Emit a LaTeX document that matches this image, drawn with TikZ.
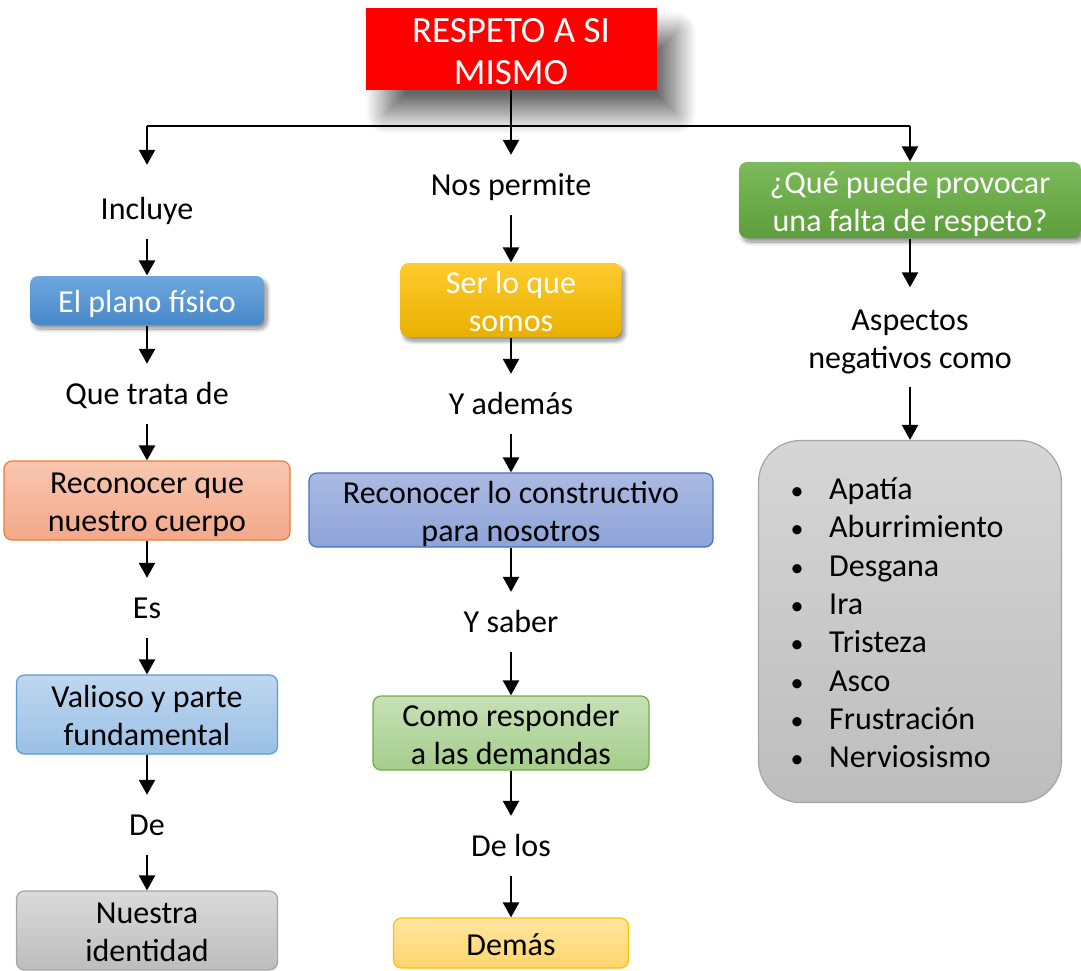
\documentclass[tikz,border=0pt]{standalone}
\usepackage{fontspec}
\setmainfont{Carlito}
\usetikzlibrary{arrows.meta,shadows.blur}
\definecolor{planoT}{HTML}{6DA7DD}
\definecolor{planoB}{HTML}{4888C9}
\definecolor{serT}{HTML}{FFCB2E}
\definecolor{serB}{HTML}{E9B000}
\definecolor{qT}{HTML}{7CBA5B}
\definecolor{qB}{HTML}{5E9D3B}
\definecolor{rqT}{HTML}{F8C7B0}
\definecolor{rqB}{HTML}{F4A889}
\definecolor{rqD}{HTML}{ED7D31}
\definecolor{rcT}{HTML}{ABBAE2}
\definecolor{rcB}{HTML}{8DA4D9}
\definecolor{rcD}{HTML}{4472C4}
\definecolor{vaT}{HTML}{BFD7EF}
\definecolor{vaB}{HTML}{9AC0E6}
\definecolor{vaD}{HTML}{5B9BD5}
\definecolor{coT}{HTML}{C6E1B6}
\definecolor{coB}{HTML}{A5CD8B}
\definecolor{coD}{HTML}{70AD47}
\definecolor{nuT}{HTML}{DADADA}
\definecolor{nuB}{HTML}{BDBDBD}
\definecolor{nuD}{HTML}{A5A5A5}
\definecolor{deT}{HTML}{FFE6A2}
\definecolor{deB}{HTML}{FFD56C}
\definecolor{deD}{HTML}{FFC000}
\definecolor{liT}{HTML}{D6D6D6}
\definecolor{liB}{HTML}{BDBDBD}
\begin{document}
\begin{tikzpicture}[x=1pt,y=-1pt,
  every node/.style={font=\fontsize{32}{38}\selectfont, align=center},
  lbl/.style={inner sep=0pt, text height=26pt, text depth=5pt, minimum height=60pt},
  box/.style={rounded corners=8pt, inner sep=0pt, line width=1.2pt},
  two/.style={text height=67pt, text depth=5pt},
  one/.style={text height=27pt, text depth=3pt},
  arr/.style={line width=2.3pt, -{Triangle[width=16pt,length=15pt]}},
  conn/.style={line width=2.3pt},
  sshadow/.style={blur shadow={shadow xshift=3pt, shadow yshift=-4pt, shadow blur radius=4pt, shadow opacity=45, shadow blur steps=10}},
  item/.style={inner sep=0pt, text height=26pt, text depth=5pt, anchor=west},
]
\useasboundingbox (0,0) rectangle (1081,970);

% title
\node[fill=red, minimum width=291pt, minimum height=82pt, inner sep=0pt, text=white,
  font=\fontsize{37}{42}\selectfont, text height=70pt, text depth=0pt,
  blur shadow={shadow xshift=20pt, shadow yshift=-24pt, shadow blur radius=20pt, shadow opacity=60, shadow blur steps=30}]
  (title) at (511,49) {RESPETO A SI\\MISMO};

\coordinate (forkL) at (147,126);
\coordinate (forkR) at (910,126);

% left column
\node[lbl] (incluye) at (147,209) {Incluye};
\node[box, one, sshadow, top color=planoT, bottom color=planoB, text=white, minimum width=234pt, minimum height=49pt] (plano) at (147,300.5) {El plano físico};
\node[lbl] (quetrata) at (147,394) {Que trata de};
\node[box, two, draw=rqD, top color=rqT, bottom color=rqB, minimum width=286pt, minimum height=79pt] (recon1) at (147,500.5) {Reconocer que\\nuestro cuerpo};
\node[lbl] (es) at (147,608) {Es};
\node[box, two, draw=vaD, top color=vaT, bottom color=vaB, minimum width=261pt, minimum height=79pt] (valioso) at (147,714.5) {Valioso y parte\\fundamental};
\node[lbl] (de) at (147,825) {De};
\node[box, two, draw=nuD, top color=nuT, bottom color=nuB, minimum width=261pt, minimum height=79pt] (nuestra) at (147,930.5) {Nuestra\\identidad};

% middle column
\node[lbl] (nospermite) at (511,185) {Nos permite};
\node[box, two, sshadow, top color=serT, bottom color=serB, text=white, minimum width=221pt, minimum height=74pt] (ser) at (511,300) {Ser lo que\\somos};
\node[lbl] (ademas) at (511,404) {Y además};
\node[box, two, draw=rcD, top color=rcT, bottom color=rcB, minimum width=404pt, minimum height=74pt] (recon2) at (511,510) {Reconocer lo constructivo\\para nosotros};
\node[lbl] (saber) at (511,622) {Y saber};
\node[box, two, draw=coD, top color=coT, bottom color=coB, minimum width=276pt, minimum height=74pt] (como) at (511,733) {Como responder\\a las demandas};
\node[lbl] (delos) at (511,846) {De los};
\node[box, one, draw=deD, top color=deT, bottom color=deB, minimum width=235pt, minimum height=50pt] (demas) at (511,943) {Demás};

% right column
\node[box, two, sshadow, top color=qT, bottom color=qB, text=white, minimum width=342pt, minimum height=76pt] (q) at (910,200) {¿Qué puede provocar\\una falta de respeto?};
\node[two, inner sep=0pt, minimum height=99pt] (aspectos) at (910,337) {Aspectos\\negativos como};
\node[rounded corners=42pt, draw=nuD, line width=1.2pt, top color=liT, bottom color=liB, minimum width=303pt, minimum height=362pt, inner sep=0pt] (list) at (910,621.5) {};
\foreach \t [count=\i] in {Apatía,Aburrimiento,Desgana,Ira,Tristeza,Asco,Frustración,Nerviosismo} {
  \node[item] (it\i) at (829,{450.7+38.3*\i}) {\t};
  \node[item, anchor=center, font=\fontsize{26}{38}\selectfont] (bu\i) at (797,{450.7+38.3*\i}) {•};
}

% connectors
\draw[conn] (forkL) -- (forkR);
\draw[arr] (title.south) -- (nospermite.north);
\draw[arr, shorten >=14pt] (forkL) -- (incluye.north);
\draw[arr] (forkR) -- (q.north);

\draw[arr] (incluye.south) -- (plano.north);
\draw[arr] (plano.south) -- (quetrata.north);
\draw[arr] (quetrata.south) -- (recon1.north);
\draw[arr] (recon1.south) -- (es.north);
\draw[arr] (es.south) -- (valioso.north);
\draw[arr] (valioso.south) -- (de.north);
\draw[arr] (de.south) -- (nuestra.north);

\draw[arr] (nospermite.south) -- (ser.north);
\draw[arr] (ser.south) -- (ademas.north);
\draw[arr] (ademas.south) -- (recon2.north);
\draw[arr] (recon2.south) -- (saber.north);
\draw[arr] (saber.south) -- (como.north);
\draw[arr] (como.south) -- (delos.north);
\draw[arr] (delos.south) -- (demas.north);

\draw[arr] (q.south) -- (aspectos.north);
\draw[arr] (aspectos.south) -- (list.north);
\end{tikzpicture}
\end{document}
